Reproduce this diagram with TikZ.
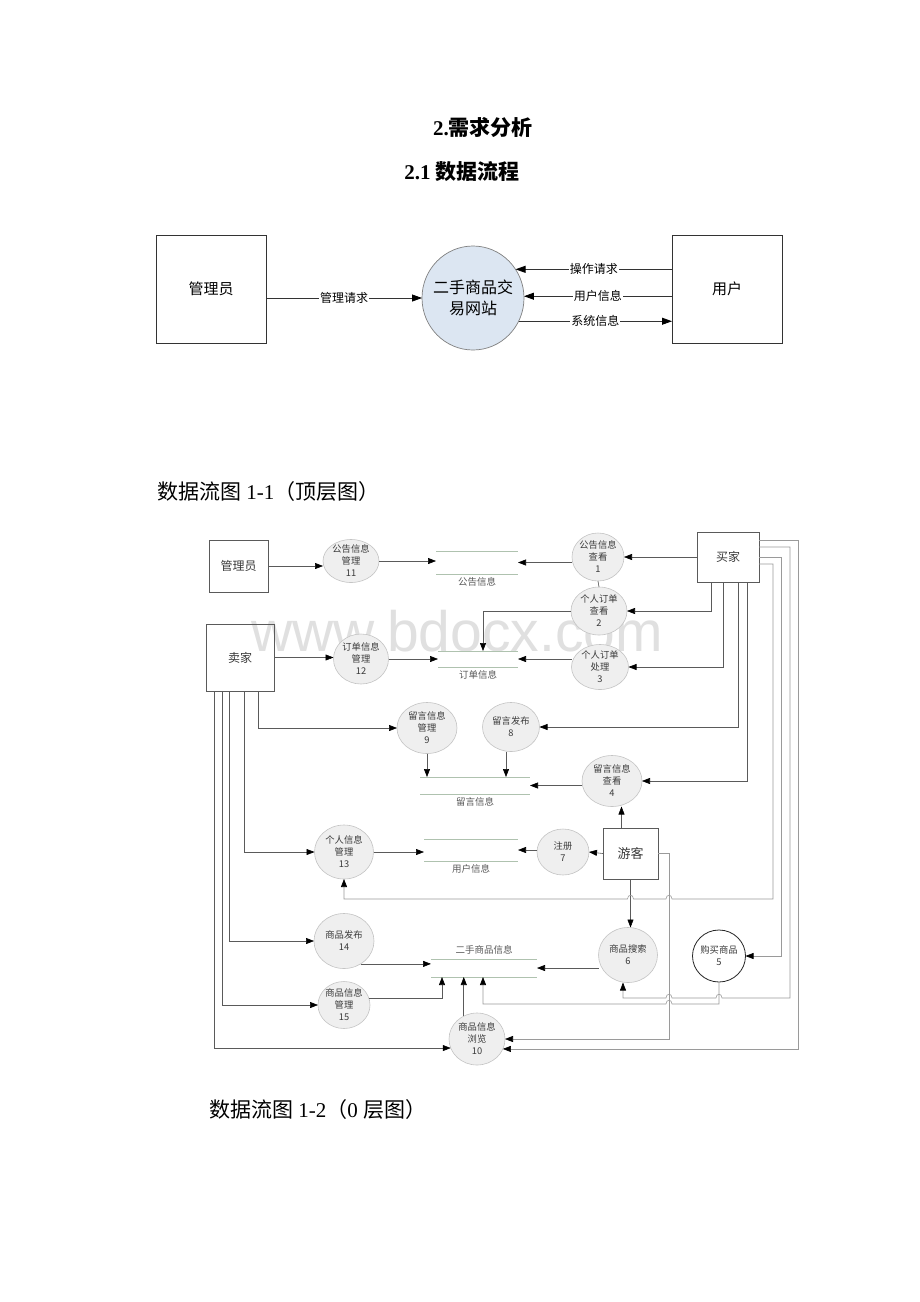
\documentclass[tikz,border=0pt]{standalone}
\usepackage{fontspec}
\setmainfont{Liberation Serif}
\newfontfamily\cjk{Noto Sans CJK SC}
\newfontfamily\wmfont{Liberation Sans}
\usetikzlibrary{arrows.meta,shapes.geometric}
\definecolor{linegray}{HTML}{5A5A5A}
\definecolor{darkline}{HTML}{333333}
\definecolor{wiregray}{HTML}{9A9A9A}
\definecolor{storegray}{HTML}{AFC2AF}
\definecolor{procfill}{HTML}{EFEFEF}
\definecolor{procdraw}{HTML}{C4C4C4}
\definecolor{sitefill}{HTML}{DCE6F2}
\definecolor{txtgray}{HTML}{3A3A3A}
\begin{document}
\begin{tikzpicture}[x=1pt,y=-1pt,
  entA/.style={draw=darkline, line width=0.8pt, inner sep=0pt, outer sep=0pt,
    font=\cjk\fontsize{15}{18}\selectfont, minimum width=110pt, minimum height=108pt},
  ent/.style={draw=linegray, line width=0.7pt, inner sep=0pt, outer sep=0pt,
    font=\cjk\fontsize{12}{14}\selectfont, text=txtgray},
  proc/.style={ellipse, draw=procdraw, fill=procfill, line width=0.6pt, inner sep=-6pt,
    outer sep=0pt, align=center, font=\cjk\fontsize{9.3}{12}\selectfont, text=txtgray},
  storebox/.style={inner sep=0pt, outer sep=0pt},
  storeline/.style={draw=storegray, line width=0.7pt},
  storelbl/.style={font=\cjk\fontsize{9.5}{11}\selectfont, text=black!65, inner sep=0pt},
  flowA/.style={draw=darkline, line width=0.8pt, -{Triangle[length=10pt,width=7pt,color=black]}},
  lbl/.style={fill=white, inner sep=1pt, font=\cjk\fontsize{12}{14}\selectfont},
  flow/.style={draw=linegray, line width=0.6pt, -{Triangle[length=8pt,width=6pt,color=black]}},
  plain/.style={draw=linegray, line width=0.6pt},
  wireflow/.style={draw=wiregray, line width=0.6pt, -{Triangle[length=8pt,width=6pt,color=black]}}
]
\useasboundingbox[fill=white] (0,0) rectangle (920,1302);

% watermark
\node[font=\wmfont\fontsize{57}{60}\selectfont, text=black!12, inner sep=0pt] (wm) at (457,631) {www.bdocx.com};

% headings
\node[font=\bfseries\fontsize{21}{24}\selectfont] (h1) at (483,127) {2.{\cjk\bfseries 需求分析}};
\node[font=\bfseries\fontsize{21}{24}\selectfont] (h2) at (462,172) {2.1 {\cjk\bfseries 数据流程}};
\node[anchor=west, font=\fontsize{21}{24}\selectfont, inner sep=0pt] (cap1) at (157,492) {{\cjk 数据流图} 1-1{\cjk （顶层图）}};
\node[anchor=west, font=\fontsize{21}{24}\selectfont, inner sep=0pt] (cap2) at (209,1110) {{\cjk 数据流图} 1-2{\cjk （}0 {\cjk 层图）}};

% ---------- top-level diagram ----------
\node[entA] (adminA) at (211,289) {管理员};
\node[entA] (userA) at (727,289) {用户};
\node[ellipse, draw=gray, fill=sitefill, line width=0.7pt, minimum width=102pt, minimum height=104pt,
  inner sep=-12pt, outer sep=0pt, align=center, font=\cjk\fontsize{16}{21}\selectfont] (site) at (473,298) {二手商品交\\易网站};

\draw[flowA] (adminA.east |- site.west) -- node[lbl]{管理请求} (site.west);
\draw[flowA] (userA.west |- site.34) -- node[lbl]{操作请求} (site.34);
\draw[flowA] (userA.west |- site.2) -- node[lbl]{用户信息} (site.2);
\draw[flowA] (site.-27) -- node[lbl]{系统信息} (userA.west |- site.-27);

% ---------- level-0 diagram ----------
% entities
\node[ent, minimum width=59pt, minimum height=52pt] (adminB) at (238.5,566) {管理员};
\node[ent, minimum width=68pt, minimum height=67pt] (seller) at (240,657.5) {卖家};
\node[ent, minimum width=62pt, minimum height=50pt] (buyer) at (728,557) {买家};
\node[ent, minimum width=55pt, minimum height=51pt, font=\cjk\fontsize{13}{15}\selectfont] (guest) at (630.5,853.5) {游客};

% processes
\node[proc, minimum width=56pt, minimum height=43pt] (p11) at (351,561) {公告信息\\管理\\11};
\node[proc, minimum width=55pt, minimum height=50pt] (p12) at (361,659) {订单信息\\管理\\12};
\node[proc, minimum width=52pt, minimum height=48pt] (p1) at (598,557) {公告信息\\查看\\1};
\node[proc, minimum width=56pt, minimum height=48pt] (p2) at (599,611) {个人订单\\查看\\2};
\node[proc, minimum width=57pt, minimum height=45pt] (p3) at (600,667) {个人订单\\处理\\3};
\node[proc, minimum width=60pt, minimum height=51pt] (p9) at (427,728) {留言信息\\管理\\9};
\node[proc, minimum width=57pt, minimum height=49pt] (p8) at (511,727) {留言发布\\8};
\node[proc, minimum width=60pt, minimum height=51pt] (p4) at (612,781) {留言信息\\查看\\4};
\node[proc, minimum width=59pt, minimum height=54pt] (p13) at (344,852) {个人信息\\管理\\13};
\node[proc, minimum width=52pt, minimum height=46pt] (p7) at (563,852) {注册\\7};
\node[proc, minimum width=60pt, minimum height=55pt] (p14) at (344,941) {商品发布\\14};
\node[proc, minimum width=52pt, minimum height=47pt] (p15) at (344,1005) {商品信息\\管理\\15};
\node[proc, minimum width=56pt, minimum height=52pt] (p10) at (477,1039) {商品信息\\浏览\\10};
\node[proc, minimum width=59pt, minimum height=55pt] (p6) at (628,955) {商品搜索\\6};
\node[proc, minimum width=53pt, minimum height=52pt, fill=white, draw=black!85, line width=0.8pt] (p5) at (719,956) {购买商品\\5};

% data stores
\node[storebox, minimum width=82pt, minimum height=23pt] (s1) at (477,562.5) {};
\node[storebox, minimum width=80pt, minimum height=16pt] (s2) at (478,659) {};
\node[storebox, minimum width=110pt, minimum height=17pt] (s3) at (475,785.5) {};
\node[storebox, minimum width=94pt, minimum height=22pt] (s4) at (471,850) {};
\node[storebox, minimum width=106pt, minimum height=18pt] (s5) at (484,968) {};
\foreach \s in {s1,s2,s3,s4,s5}{
  \draw[storeline] (\s.north west) -- (\s.north east);
  \draw[storeline] (\s.south west) -- (\s.south east);
}
\node[storelbl, anchor=north] (l1) at ([yshift=-3pt]s1.south) {公告信息};
\node[storelbl, anchor=north] (l2) at ([yshift=-3pt]s2.south) {订单信息};
\node[storelbl, anchor=north] (l3) at ([yshift=-3pt]s3.south) {留言信息};
\node[storelbl, anchor=north] (l4) at ([yshift=-3pt]s4.south) {用户信息};
\node[storelbl, anchor=south] (l5) at ([yshift=5pt]s5.north) {二手商品信息};

% flows: admin / seller
\draw[flow] (adminB.east) -- (adminB.east -| p11.west);
\draw[flow] (p11.east) -- (p11.east -| s1.west);
\draw[flow] (seller.east) -- (seller.east -| p12.west);
\draw[flow] (p12.east) -- (p12.east -| s2.west);
\draw[flow] ([xshift=52pt]seller.south west) |- (p9.west);
\draw[flow] ([xshift=38pt]seller.south west) |- (p13.west);
\draw[flow] ([xshift=23pt]seller.south west) |- (p14.west);
\draw[flow] ([xshift=16pt]seller.south west) |- (p15.west);
\draw[flow] ([xshift=8pt]seller.south west) |- (p10.199);

% flows: buyer
\draw[flow] (buyer.west) -- (p1.east);
\draw[flow] (s1.east -| p1.west) -- (s1.east);
\draw[plain] (p1.south) -- (p2.north);
\draw[flow] ([xshift=14pt]buyer.south west) |- (p2.east);
\draw[flow] (p2.west) -| ([xshift=5pt]s2.north);
\draw[flow] ([xshift=26pt]buyer.south west) |- (p3.east);
\draw[flow] (s2.east -| p3.west) -- (s2.east);
\draw[flow] ([xshift=41pt]buyer.south west) |- (p8.east);
\draw[flow] ([xshift=50pt]buyer.south west) |- (p4.east);

% message store
\draw[flow] (p9.south) -- (p9.south |- s3.north);
\draw[flow] ([xshift=-5pt]p8.south) -- ([xshift=-5pt]p8.south |- s3.north);
\draw[flow] (s3.east -| p4.west) -- (s3.east);

% guest
\draw[flow] ([xshift=-9pt]guest.north) -- ([xshift=-9pt]guest.north |- p4.south);
\draw[flow] (guest.west) -- (p7.east);
\draw[flow] (s4.east -| p7.west) -- (s4.east);
\draw[flow] (p13.east) -- (p13.east -| s4.west);
\draw[flow] (guest.south) -- (guest.south |- p6.north);

% goods store
\draw[flow] (s5.east -| p6.west) -- (s5.east);
\draw[flow] (p14.-54) -- (p14.-54 -| s5.west);
\draw[flow] (p15.16) -| ([xshift=11pt]s5.south west);
\draw[flow] (p10.120) -- (p10.120 |- s5.south);

% long wires on the right
\draw[wireflow] ([yshift=-7pt]buyer.east) -| (773,899) -- (672,899)
  .. controls (672,894) and (666,894) .. (666,899) -- (633.5,899)
  .. controls (633.5,894) and (627.5,894) .. (627.5,899) -- (344,899) -- (p13.south);
\draw[wireflow] (buyer.east) -- ++(22,0) |- (p5.east);
\draw[wireflow] ([yshift=10pt]buyer.east) -| (790,998) -- (722,998)
  .. controls (722,993) and (716,993) .. (716,998) -- (672,998)
  .. controls (672,993) and (666,993) .. (666,998) -- (623,998) -- ([xshift=-5pt]p6.south);
\draw[wireflow] ([yshift=17pt]buyer.east) -- (798,540) |- (p10.-21);
\draw[wireflow] (guest.east) -- (669,853.5) |- (p10.east);
\draw[wireflow] (p5.south) -- (719,1004) -- (672,1004)
  .. controls (672,999) and (666,999) .. (666,1004) -- (483,1004) -- ([xshift=-1pt]s5.south);
\end{tikzpicture}
\end{document}
